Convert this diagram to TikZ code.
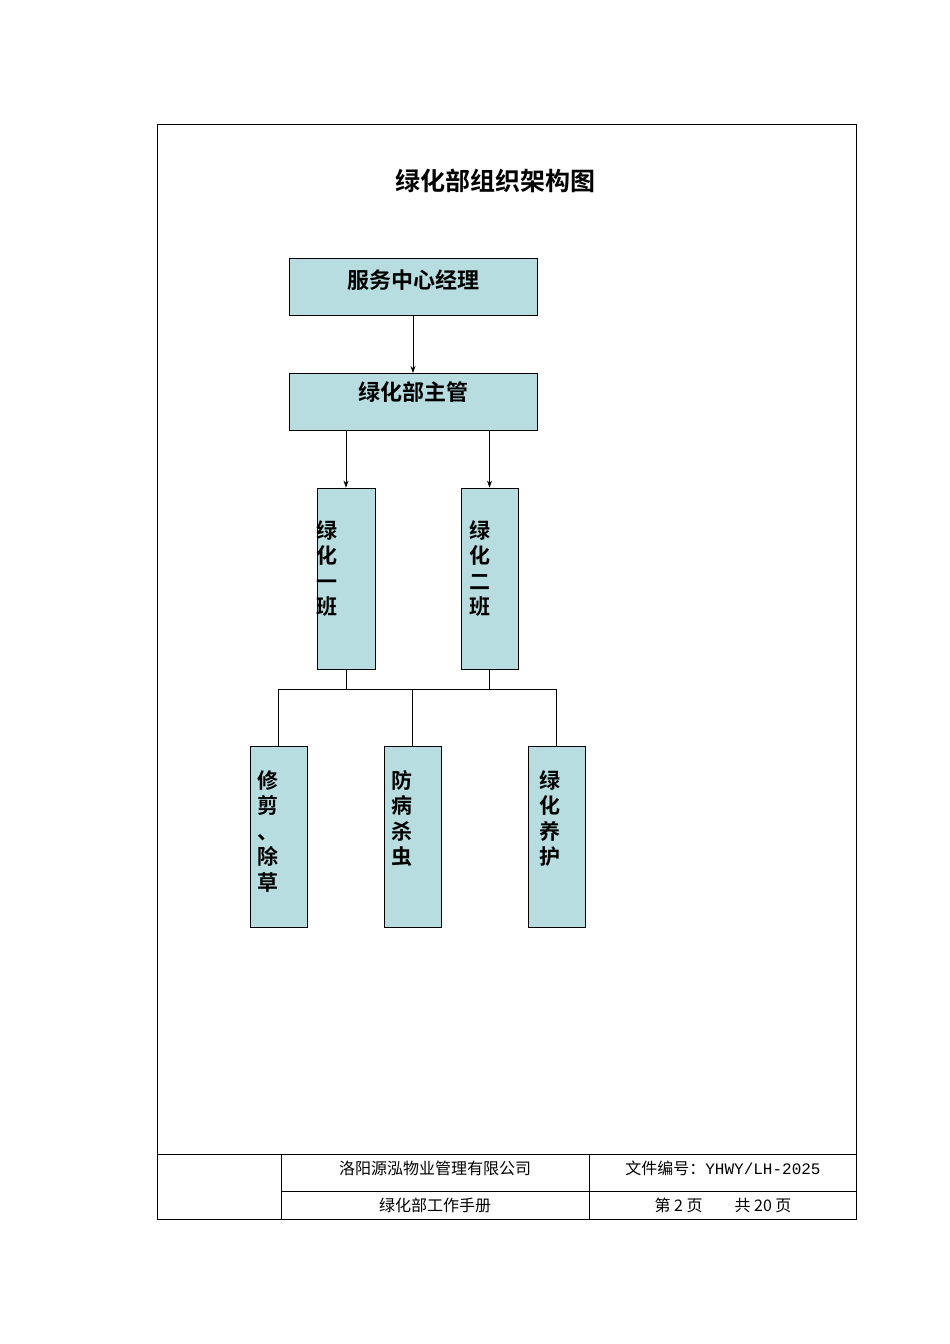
\documentclass[tikz,border=0pt]{standalone}
\usepackage{fontspec}
\newfontfamily\cjk{Noto Sans CJK SC}
\newfontfamily\cjkb{Noto Sans CJK SC Bold}
\newfontfamily\mono{Liberation Mono}
\definecolor{boxfill}{RGB}{183,221,224}
\usetikzlibrary{arrows.meta}
\begin{document}
\begin{tikzpicture}[x=1pt,y=-1pt,
  orgbox/.style={draw,fill=boxfill,line width=0.8pt,inner sep=0},
  lab/.style={font=\cjkb\fontsize{22}{26}\selectfont,align=center},
  vlab/.style={font=\cjkb\fontsize{21}{25.5}\selectfont,align=center},
  ft/.style={font=\cjk\fontsize{16}{18}\selectfont},
  arr/.style={-{Stealth[length=7pt,width=5pt]},line width=0.7pt}]
\useasboundingbox (0,0) rectangle (950,1344);
\draw[line width=0.6pt] (157,124) rectangle (856,1219);
\draw[line width=0.6pt] (157,1154) -- (856,1154) (281,1191) -- (856,1191)
  (281,1154) -- (281,1219) (589,1154) -- (589,1219);
\node[font=\cjkb\fontsize{25}{30}\selectfont] (title) at (495,181) {绿化部组织架构图};
\node[orgbox,minimum width=248pt,minimum height=57pt] (m) at (413,286.5) {};
\node[lab] at (413,280) {服务中心经理};
\node[orgbox,minimum width=248pt,minimum height=57pt] (s) at (413,401.5) {};
\node[lab] at (413,392) {绿化部主管};
\node[orgbox,minimum width=58pt,minimum height=181pt] (c1) at (346,578.5) {};
\node[vlab,anchor=north] at (327,517) {绿\\化\\一\\班};
\node[orgbox,minimum width=57pt,minimum height=181pt] (c2) at (489.5,578.5) {};
\node[vlab,anchor=north] at (480,517) {绿\\化\\二\\班};
\node[orgbox,minimum width=57pt,minimum height=181pt] (b1) at (278.5,836.5) {};
\node[vlab,anchor=north] at (268,767) {修\\剪\\、\\除\\草};
\node[orgbox,minimum width=57pt,minimum height=181pt] (b2) at (412.5,836.5) {};
\node[vlab,anchor=north] at (402,767) {防\\病\\杀\\虫};
\node[orgbox,minimum width=57pt,minimum height=181pt] (b3) at (556.5,836.5) {};
\node[vlab,anchor=north] at (550,767) {绿\\化\\养\\护};
\draw[arr] (m.south) -- (s.south |- 0,373);
\draw[arr] (346,430) -- (c1.north);
\draw[arr] (489.5,430) -- (c2.north);
\coordinate (busL) at (278.5,689);
\coordinate (busR) at (556.5,689);
\draw[line width=0.7pt] (c1.south) -- (346,689) (c2.south) -- (489.5,689)
  (busL) -- (busR) (busL) -- (b1.north) (412.5,689) -- (b2.north) (busR) -- (b3.north);
\node[ft] (f1) at (435,1168) {洛阳源泓物业管理有限公司};
\node[ft] (f2) at (723,1168) {文件编号：{\mono YHWY/LH-2025}};
\node[ft] (f3) at (435,1205) {绿化部工作手册};
\node[ft] (f4) at (723,1205) {第 2 页\hspace{2em}共 20 页};
\end{tikzpicture}
\end{document}
